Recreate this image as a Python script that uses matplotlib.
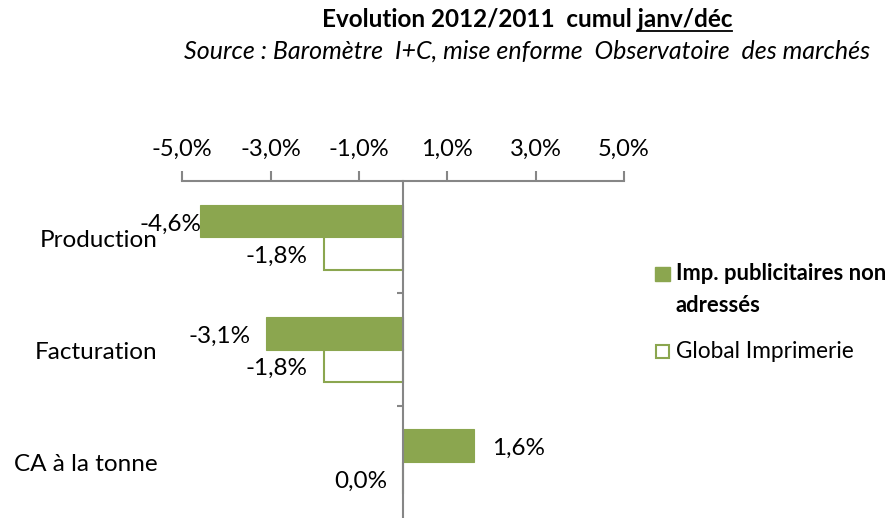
import matplotlib
matplotlib.use("Agg")
import matplotlib.pyplot as plt
from matplotlib.patches import Rectangle
from matplotlib.lines import Line2D

plt.rcParams['font.family'] = ['Lato', 'DejaVu Sans']

# ---- data ----
categories = ["Production", "Facturation", "CA à la tonne"]
imp_values = [-4.6, -3.1, 1.6]      # Imp. publicitaires non adressés (%)
glob_values = [-1.8, -1.8, 0.0]     # Global Imprimerie (%)
series_names = ["Imp. publicitaires non\nadressés", "Global Imprimerie"]
xticks = [-5, -3, -1, 1, 3, 5]
title_main = "Evolution 2012/2011  cumul janv/déc"
title_underlined = "janv/déc"
subtitle = "Source : Baromètre  I+C, mise enforme  Observatoire  des marchés"

GREEN = "#8BA64F"
GRAY = "#868686"

FS_TICK = 17
FS_LAB = 17.5
FS_CAT = 17.5
FS_LEG_B = 15.8
FS_LEG = 16.3

W, H = 895, 518
fig = plt.figure(figsize=(W / 100, H / 100), dpi=100)

def fx(px):
    return px / W

def fy(py):
    return 1 - py / H

ax_left, ax_right, ax_top, ax_bottom = 182.3, 624.0, 181.0, 518.0
ax = fig.add_axes([fx(ax_left), fy(ax_bottom), fx(ax_right - ax_left), (ax_bottom - ax_top) / H])

n = len(categories)
ypos = list(range(n))
bh = 0.288
ax.barh([y - bh / 2 for y in ypos], imp_values, height=bh, color=GREEN, edgecolor=GREEN, linewidth=0.8, zorder=2)
ax.barh([y + bh / 2 for y in ypos], glob_values, height=bh, facecolor="white", edgecolor=GREEN, linewidth=1.5, zorder=2)

ax.set_xlim(-5, 5)
ax.set_ylim(n - 0.5, -0.5)

# axes styling
ax.xaxis.set_ticks_position('top')
ax.set_xticks(xticks)
ax.set_xticklabels([f"{v:.1f}%".replace(".", ",") for v in xticks], fontsize=FS_TICK)
ax.tick_params(axis='x', which='both', direction='out', length=7.2, width=1.5, color=GRAY, pad=8)
ax.spines['top'].set_color(GRAY)
ax.spines['top'].set_linewidth(1.5)
ax.spines['bottom'].set_visible(False)
ax.spines['right'].set_visible(False)
ax.spines['left'].set_position(('data', 0))
ax.spines['left'].set_color(GRAY)
ax.spines['left'].set_linewidth(1.5)
ax.spines['left'].set_zorder(2.5)
ax.set_yticks([y + 0.5 for y in ypos[:-1]])
ax.set_yticklabels([])
ax.tick_params(axis='y', direction='out', length=4.3, width=1.5, color=GRAY)
ax.patch.set_alpha(0)

# category labels
for y, c in zip(ypos, categories):
    ax.annotate(c, xy=(0, y), xycoords=('axes fraction', 'data'), xytext=(-25, -3),
                textcoords='offset pixels', ha='right', va='center', fontsize=FS_CAT, color='black')

# value labels
def fmt(v):
    return f"{v:.1f}%".replace(".", ",")

for y, v in zip(ypos, imp_values):
    yy = y - bh / 2
    if v > 0:
        ax.annotate(fmt(v), xy=(v, yy), xytext=(18, -3), textcoords='offset pixels', ha='left', va='center', fontsize=FS_LAB)
    else:
        dx = 2 if v < -4 else -16
        ax.annotate(fmt(v), xy=(v, yy), xytext=(dx, -3), textcoords='offset pixels', ha='right', va='center', fontsize=FS_LAB)
for y, v in zip(ypos, glob_values):
    yy = y + bh / 2
    if v > 0:
        ax.annotate(fmt(v), xy=(v, yy), xytext=(18, -3), textcoords='offset pixels', ha='left', va='center', fontsize=FS_LAB)
    else:
        ax.annotate(fmt(v), xy=(v, yy), xytext=(-16, -3), textcoords='offset pixels', ha='right', va='center', fontsize=FS_LAB)

# title with underline
t = fig.text(fx(527), fy(27), title_main, ha='center', va='baseline', fontsize=17.5, fontweight='bold')
fig.text(fx(527), fy(59), subtitle, ha='center', va='baseline', fontsize=18, fontstyle='italic')
fig.canvas.draw()
r = fig.canvas.get_renderer()
bb = t.get_window_extent(r)
tmp = fig.text(0, 0, title_underlined, fontsize=17.5, fontweight='bold')
wu = tmp.get_window_extent(r).width
tmp.remove()
x1 = bb.x1 / W
x0 = (bb.x1 - wu) / W
yl = fy(30.5)
fig.add_artist(Line2D([x0, x1], [yl, yl], transform=fig.transFigure, color='black', linewidth=1.3))

# legend (manual)
fig.add_artist(Rectangle((fx(655), fy(281)), 15 / W, 14 / H, transform=fig.transFigure,
                         facecolor=GREEN, edgecolor=GREEN))
lines = series_names[0].split("\n")
fig.text(fx(676), fy(274), lines[0], ha='left', va='center', fontsize=FS_LEG_B, fontweight='bold')
fig.text(fx(676), fy(305), lines[1], ha='left', va='center', fontsize=FS_LEG_B, fontweight='bold')
fig.add_artist(Rectangle((fx(656), fy(357.5)), 13 / W, 12.5 / H, transform=fig.transFigure,
                         facecolor='white', edgecolor=GREEN, linewidth=1.5))
fig.text(fx(676), fy(352), series_names[1], ha='left', va='center', fontsize=FS_LEG)

fig.savefig("out.png", dpi=100)
